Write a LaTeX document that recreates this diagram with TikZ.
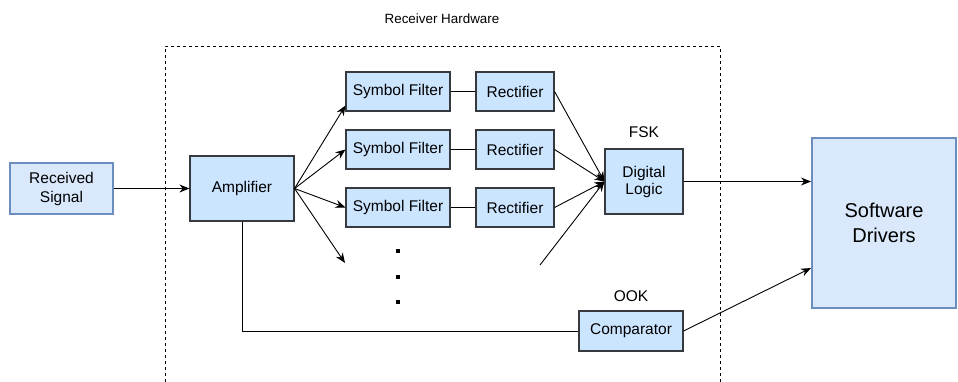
\documentclass[tikz,border=0pt]{standalone}
\usepackage{fontspec}
\setmainfont{Liberation Sans}
\usetikzlibrary{arrows.meta}
\definecolor{boxfill}{HTML}{CCE5FF}
\definecolor{boxline}{HTML}{36393D}
\definecolor{iofill}{HTML}{DAE8FC}
\definecolor{ioline}{HTML}{6C8EBF}
\tikzset{
  block/.style={draw=boxline, fill=boxfill, line width=1.1pt, inner sep=0pt, align=center, font=\fontsize{15.5}{17}\selectfont},
  iobox/.style={draw=ioline, fill=iofill, line width=1.1pt, inner sep=0pt, align=center, font=\fontsize{15.5}{19}\selectfont},
  lbl/.style={font=\fontsize{15.5}{17}\selectfont},
  arr/.style={-{Stealth[length=10pt,width=8pt]}, line width=0.9pt},
  wire/.style={line width=0.9pt}
}
\begin{document}
\begin{tikzpicture}[x=1pt, y=-1pt]
    \useasboundingbox (0,0) rectangle (958,382);

    \draw[line width=0.9pt, dash pattern=on 3pt off 3pt] (165,382) -- (165,46) -- (720,46) -- (720,382);
    \node[font=\fontsize{13.4}{15}\selectfont] (hw) at (442,19) {Receiver Hardware};

    \node[iobox, minimum width=103pt, minimum height=51pt] (rx) at (61.5,188.5) {Received\\Signal};
    \node[block, minimum width=104pt, minimum height=65pt] (amp) at (242,188.5) {Amplifier};

    \node[block, minimum width=104pt, minimum height=39pt] (sf1) at (398,91.5) {Symbol Filter};
    \node[block, minimum width=104pt, minimum height=39pt] (sf2) at (398,149.5) {Symbol Filter};
    \node[block, minimum width=104pt, minimum height=39pt] (sf3) at (398,207.5) {Symbol Filter};
    \node[block, minimum width=78pt, minimum height=39pt] (rc1) at (515,91.5) {Rectifier};
    \node[block, minimum width=78pt, minimum height=39pt] (rc2) at (515,149.5) {Rectifier};
    \node[block, minimum width=78pt, minimum height=39pt] (rc3) at (515,207.5) {Rectifier};

    \node[block, minimum width=78pt, minimum height=65pt] (dl) at (644,181.5) {Digital\\Logic};
    \node[lbl] (fsk) at (644,132) {FSK};
    \node[block, minimum width=104pt, minimum height=40pt] (cmp) at (631,331) {Comparator};
    \node[lbl] (ook) at (631,296) {OOK};

    \node[iobox, draw=ioline, line width=2pt, minimum width=144pt, minimum height=170pt, font=\fontsize{20}{25}\selectfont] (sw) at (884,223) {Software\\Drivers};

    \coordinate (more) at (345,263);
    \coordinate (morein) at (540,265);

    \fill (396,249) rectangle (400,253);
    \fill (396,275) rectangle (400,279);
    \fill (396,300) rectangle (400,304);

    \draw[arr] (rx) -- (amp);
    \draw[arr] (amp.east) -- ([yshift=6pt]sf1.south west);
    \draw[arr] (amp.east) -- (sf2.west);
    \draw[arr] (amp.east) -- (sf3.west);
    \draw[arr] (amp.east) -- (more);

    \draw[wire] (sf1) -- (rc1);
    \draw[wire] (sf2) -- (rc2);
    \draw[wire] (sf3) -- (rc3);

    \draw[arr] (rc1.east) -- (dl.west);
    \draw[arr] (rc2.east) -- (dl.west);
    \draw[arr] (rc3.east) -- (dl.west);
    \draw[arr] (morein) -- (dl.west);

    \draw[arr] (dl.east) -- (sw.west |- dl.east);
    \draw[wire] (amp.south) |- (cmp.west);
    \draw[arr] (cmp.east) -- ([yshift=41pt]sw.south west);
  \end{tikzpicture}
\end{document}
